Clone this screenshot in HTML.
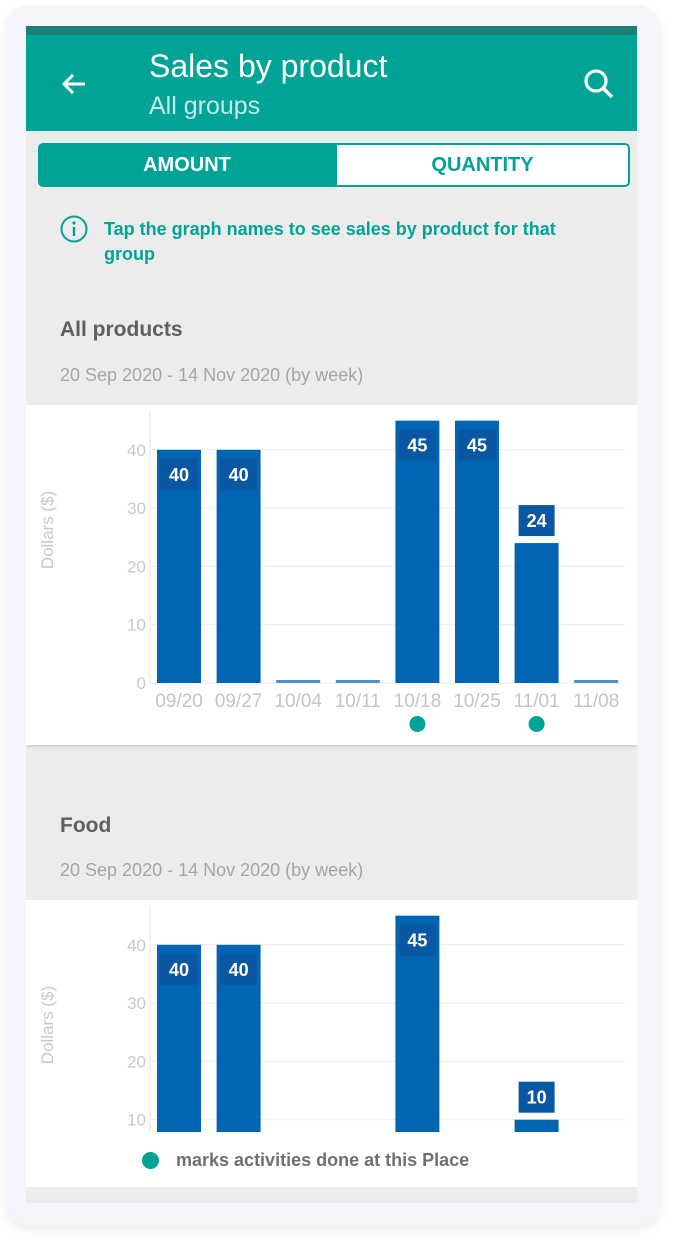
<!DOCTYPE html>
<html><head><meta charset="utf-8"><style>
*{margin:0;padding:0;box-sizing:border-box}
body{width:683px;height:1250px;background:#fff;font-family:"Liberation Sans",sans-serif;position:relative;overflow:hidden}
.abs{position:absolute}
</style></head><body>
<div class="abs" style="left:6px;top:6px;width:654px;height:1220px;background:#f4f5fa;border-radius:22px;box-shadow:0 4px 10px rgba(0,0,0,0.08)"></div>
<div class="abs" style="left:26px;top:26px;width:611px;height:1177px;background:#ececec;overflow:hidden">
  <div class="abs" style="left:0;top:0;width:611px;height:9px;background:#1c7f76"></div>
  <div class="abs" style="left:0;top:9px;width:611px;height:96px;background:#00a497"></div>
  <svg class="abs" style="left:32px;top:42px" width="32" height="32" viewBox="0 0 32 32"><path d="M27 16H6M15 7l-9 9 9 9" stroke="#fff" stroke-width="3" fill="none"/></svg>
  <div class="abs" style="left:123px;top:22px;color:#fff;font-size:32px">Sales by product</div>
  <div class="abs" style="left:123px;top:66px;color:#c4ebe6;font-size:25px">All groups</div>
  <svg class="abs" style="left:555px;top:40px" width="36" height="36" viewBox="0 0 36 36"><circle cx="15" cy="15" r="10" stroke="#fff" stroke-width="3.2" fill="none"/><path d="M22 22l9 9" stroke="#fff" stroke-width="3.6"/></svg>
  <div class="abs" style="left:12px;top:117px;width:298px;height:44px;background:#00a497;border-radius:5px 0 0 5px;color:#fff;font-weight:bold;font-size:20px;text-align:center;line-height:44px">AMOUNT</div>
  <div class="abs" style="left:309px;top:117px;width:295px;height:44px;background:#fff;border:2px solid #00a497;border-radius:0 5px 5px 0;color:#00a497;font-weight:bold;font-size:20px;text-align:center;line-height:40px">QUANTITY</div>
  <svg class="abs" style="left:33px;top:188px" width="30" height="30" viewBox="0 0 30 30"><circle cx="15" cy="15" r="12.5" stroke="#00a497" stroke-width="2" fill="none"/><path d="M15 13v9" stroke="#00a497" stroke-width="2.4"/><circle cx="15" cy="9" r="1.6" fill="#00a497"/></svg>
  <div class="abs" style="left:78px;top:191px;width:500px;color:#00a497;font-weight:bold;font-size:18px;line-height:25px">Tap the graph names to see sales by product for that group</div>
  <div class="abs" style="left:34px;top:292px;color:#5f5f5f;font-weight:bold;font-size:21px">All products</div>
  <div class="abs" style="left:34px;top:339px;color:#a5a5a5;font-size:18px">20 Sep 2020 - 14 Nov 2020 (by week)</div>
  <div class="abs" style="left:0;top:379px;width:611px;height:340px;background:#fff;box-shadow:0 2px 3px rgba(0,0,0,0.12)"></div>
  <div class="abs" style="left:34px;top:788px;color:#5f5f5f;font-weight:bold;font-size:21px">Food</div>
  <div class="abs" style="left:34px;top:834px;color:#a5a5a5;font-size:18px">20 Sep 2020 - 14 Nov 2020 (by week)</div>
  <div class="abs" style="left:0;top:874px;width:611px;height:287px;background:#fff"></div>
</div>
<svg class="abs" id="c1" style="left:0;top:0" width="683" height="1250"></svg>
<div class="abs" style="left:26px;top:1133px;width:611px;height:54px;background:#fff"></div>
<div class="abs" style="left:142px;top:1152px;width:17px;height:17px;border-radius:50%;background:#00a497"></div>
<div class="abs" style="left:176px;top:1150px;font-size:18px;font-weight:bold;color:#707070">marks activities done at this Place</div>
<script>
const categories=["09/20","09/27","10/04","10/11","10/18","10/25","11/01","11/08"];
const allValues=[40,40,0,0,45,45,24,0];
const allMarks=[false,false,false,false,true,false,true,false];
const foodValues=[40,40,0,0,45,0,10,0];
const yTicks=[0,10,20,30,40];
const NS="http://www.w3.org/2000/svg";
const svg=document.getElementById('c1');
function mk(t,a){const e=document.createElementNS(NS,t);for(const k in a)e.setAttribute(k,a[k]);svg.appendChild(e);return e;}
function xC(i){return 179+i*59.6;}
function drawChart(values,zeroY,marks,showX,minTick,name,yTitleY,clipBottom){
  const ys=v=>zeroY-v*5.83;
  mk('line',{x1:150,x2:150,y1:ys(46.5),y2:Math.min(zeroY,clipBottom),stroke:'#e6e6e6'});
  yTicks.forEach(t=>{if(t<minTick)return;
    const l=mk('line',{x1:150,x2:625,y1:ys(t),y2:ys(t),stroke:'#ececec'});
    
    
    const tx=mk('text',{x:146,y:ys(t)+6,'text-anchor':'end','font-size':17,fill:'#c8c8c8','font-family':'Liberation Sans'});tx.textContent=t;
    
    
  });
  const yt=mk('text',{x:0,y:0,'font-size':17,fill:'#c8c8c8','text-anchor':'middle',transform:'translate(53,'+yTitleY+') rotate(-90)','font-family':'Liberation Sans'});yt.textContent='Dollars ($)';
  
  
  values.forEach((v,i)=>{
    const cx=xC(i);
    if(v>0){
      const top=ys(v);const bot=Math.min(zeroY,clipBottom);
      const b=mk('rect',{x:cx-22,y:top,width:44,height:bot-top,fill:'#0066b3'});
      
      
      let by,bw=38;
      if(v>=30){by=top+9;}else{by=top-38;bw=36;}
      const bx=mk('rect',{x:cx-bw/2,y:by,width:bw,height:31,fill:'#0a58a3'});
      
      
      const tt=mk('text',{x:cx,y:by+22,'text-anchor':'middle','font-size':18,'font-weight':'bold',fill:'#fff','font-family':'Liberation Sans'});tt.textContent=v;
      
      
    }else if(showX){
      const b=mk('rect',{x:cx-22,y:zeroY-3,width:44,height:3,fill:'#4a8fd0'});
      
      
    }
    if(showX){
      const t=mk('text',{x:cx,y:zeroY+24,'text-anchor':'middle','font-size':19,fill:'#c4c4c4','font-family':'Liberation Sans'});t.textContent=categories[i];
      
      
      if(marks[i]){const d=mk('circle',{cx:cx,cy:zeroY+41,r:8,fill:'#00a497'});
        
        }
    }
  });
}
drawChart(allValues,683,allMarks,true,0,'all-products',530,9999);
drawChart(foodValues,1178,[],false,10,'food',1025,1132);
</script>
</body></html>
